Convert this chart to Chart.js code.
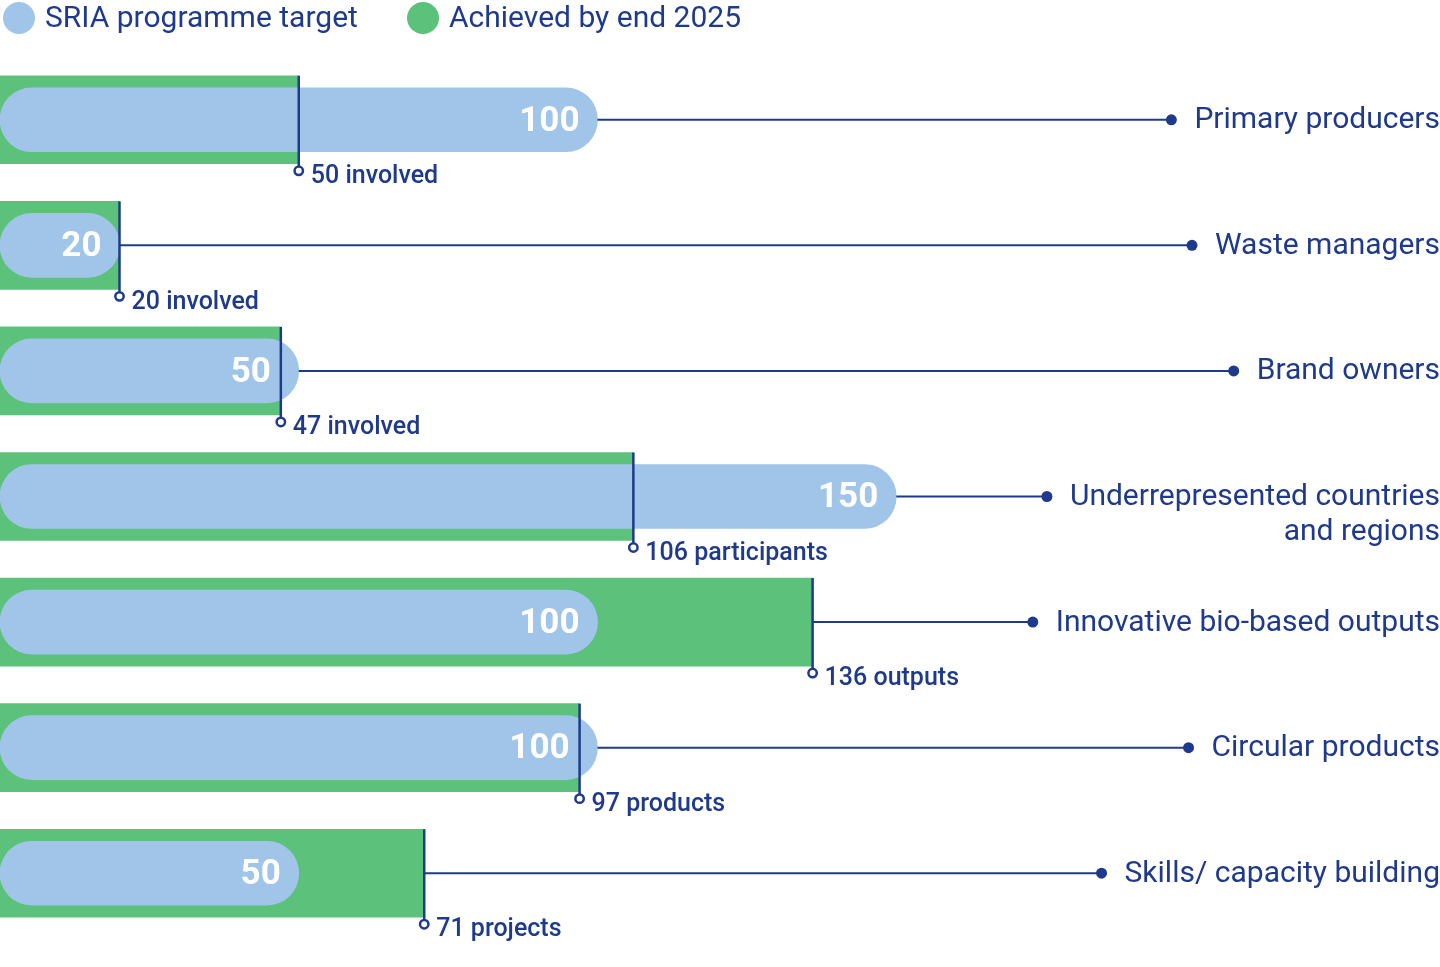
<!DOCTYPE html>
<html lang="en">
<head>
    <meta charset="UTF-8">
    <title>SRIA targets vs achieved</title>
    <style>
        body {
            margin: 0;
            padding: 0;
            background-color: #fff;
        }

        .wrap {
            width: 1440px;
            height: 967px;
            position: relative;
        }
    </style>
</head>
<body>
    <div class="wrap">
        <canvas id="targetChart"></canvas>
    </div>

    <script src="https://cdn.jsdelivr.net/npm/chart.js"></script>
    <script>
        // Data
        const categories = [
            ['Primary producers'],
            ['Waste managers'],
            ['Brand owners'],
            ['Underrepresented countries', 'and regions'],
            ['Innovative bio-based outputs'],
            ['Circular products'],
            ['Skills/ capacity building']
        ];
        const seriesNames = ['SRIA programme target', 'Achieved by end 2025'];
        const targetValues = [100, 20, 50, 150, 100, 100, 50];
        const achievedValues = [50, 20, 47, 106, 136, 97, 71];
        const achievedLabels = ['50 involved', '20 involved', '47 involved', '106 participants', '136 outputs', '97 products', '71 projects'];

        const navy = '#1f3a8c';
        const blue = '#a0c5e8';
        const green = '#5cc17a';

        // legend drawn at top-left
        const legendPlugin = {
            id: 'topLegend',
            afterDraw(chart) {
                const ctx = chart.ctx;
                const items = [
                    { name: seriesNames[0], color: blue, x: 19 },
                    { name: seriesNames[1], color: green, x: 423 }
                ];
                ctx.save();
                ctx.font = '400 30px Roboto';
                ctx.textBaseline = 'middle';
                ctx.textAlign = 'left';
                items.forEach(item => {
                    ctx.fillStyle = item.color;
                    ctx.beginPath();
                    ctx.arc(item.x, 18, 16, 0, Math.PI * 2);
                    ctx.fill();
                    ctx.fillStyle = navy;
                    ctx.fillText(item.name, item.x + 26, 19);
                });
                ctx.restore();
            }
        };

        // markers, leader lines and labels on top of the bars
        const markerPlugin = {
            id: 'markers',
            afterDatasetsDraw(chart) {
                const ctx = chart.ctx;
                const xs = chart.scales.x;
                const ys = chart.scales.y;
                const right = chart.width;

                ctx.save();
                categories.forEach((cat, i) => {
                    const y = ys.getPixelForValue(i);
                    const xT = xs.getPixelForValue(targetValues[i]);
                    const xA = xs.getPixelForValue(achievedValues[i]);

                    // target value inside pill, kept clear of the achieved line
                    let textRight = xT - 18;
                    if (xA > xT - 35 && xA < xT - 3) textRight = xA - 10;
                    ctx.fillStyle = '#fff';
                    ctx.font = '700 35px Roboto';
                    ctx.textAlign = 'right';
                    ctx.textBaseline = 'middle';
                    ctx.fillText(String(targetValues[i]), textRight, y + 2);

                    // category label on the right
                    ctx.font = '400 30px Roboto';
                    ctx.fillStyle = navy;
                    ctx.textAlign = 'right';
                    cat.forEach((line, k) => {
                        ctx.fillText(line, right, y + 1 + k * 35);
                    });
                    const dotX = right - ctx.measureText(cat[0]).width - 23;

                    // leader line to dot
                    ctx.strokeStyle = navy;
                    ctx.lineWidth = 2;
                    ctx.beginPath();
                    ctx.moveTo(Math.max(xT, xA), y);
                    ctx.lineTo(dotX, y);
                    ctx.stroke();
                    ctx.fillStyle = navy;
                    ctx.beginPath();
                    ctx.arc(dotX, y, 5.5, 0, Math.PI * 2);
                    ctx.fill();

                    // achieved marker
                    ctx.lineWidth = 2.5;
                    ctx.beginPath();
                    ctx.moveTo(xA, y - 44);
                    ctx.lineTo(xA, y + 47);
                    ctx.stroke();
                    ctx.fillStyle = '#fff';
                    ctx.beginPath();
                    ctx.arc(xA, y + 51, 4.2, 0, Math.PI * 2);
                    ctx.fill();
                    ctx.stroke();

                    ctx.fillStyle = navy;
                    ctx.font = '500 25px Roboto';
                    ctx.textAlign = 'left';
                    ctx.fillText(achievedLabels[i], xA + 12, y + 57);
                });
                ctx.restore();
            }
        };

        const ctx = document.getElementById('targetChart').getContext('2d');
        new Chart(ctx, {
            type: 'bar',
            data: {
                labels: categories,
                datasets: [
                    {
                        label: seriesNames[0],
                        data: targetValues,
                        backgroundColor: blue,
                        barThickness: 64,
                        borderRadius: 32,
                        borderSkipped: false,
                        grouped: false
                    },
                    {
                        label: seriesNames[1],
                        data: achievedValues,
                        backgroundColor: green,
                        barThickness: 88,
                        borderRadius: 0,
                        grouped: false
                    }
                ]
            },
            options: {
                indexAxis: 'y',
                responsive: true,
                maintainAspectRatio: false,
                animation: false,
                layout: {
                    padding: { top: 57, bottom: 31, left: 0, right: 0 }
                },
                scales: {
                    x: { display: false, min: 0, max: 241 },
                    y: { display: false }
                },
                plugins: {
                    legend: { display: false },
                    tooltip: { enabled: false }
                }
            },
            plugins: [legendPlugin, markerPlugin]
        });
    </script>
</body>
</html>
